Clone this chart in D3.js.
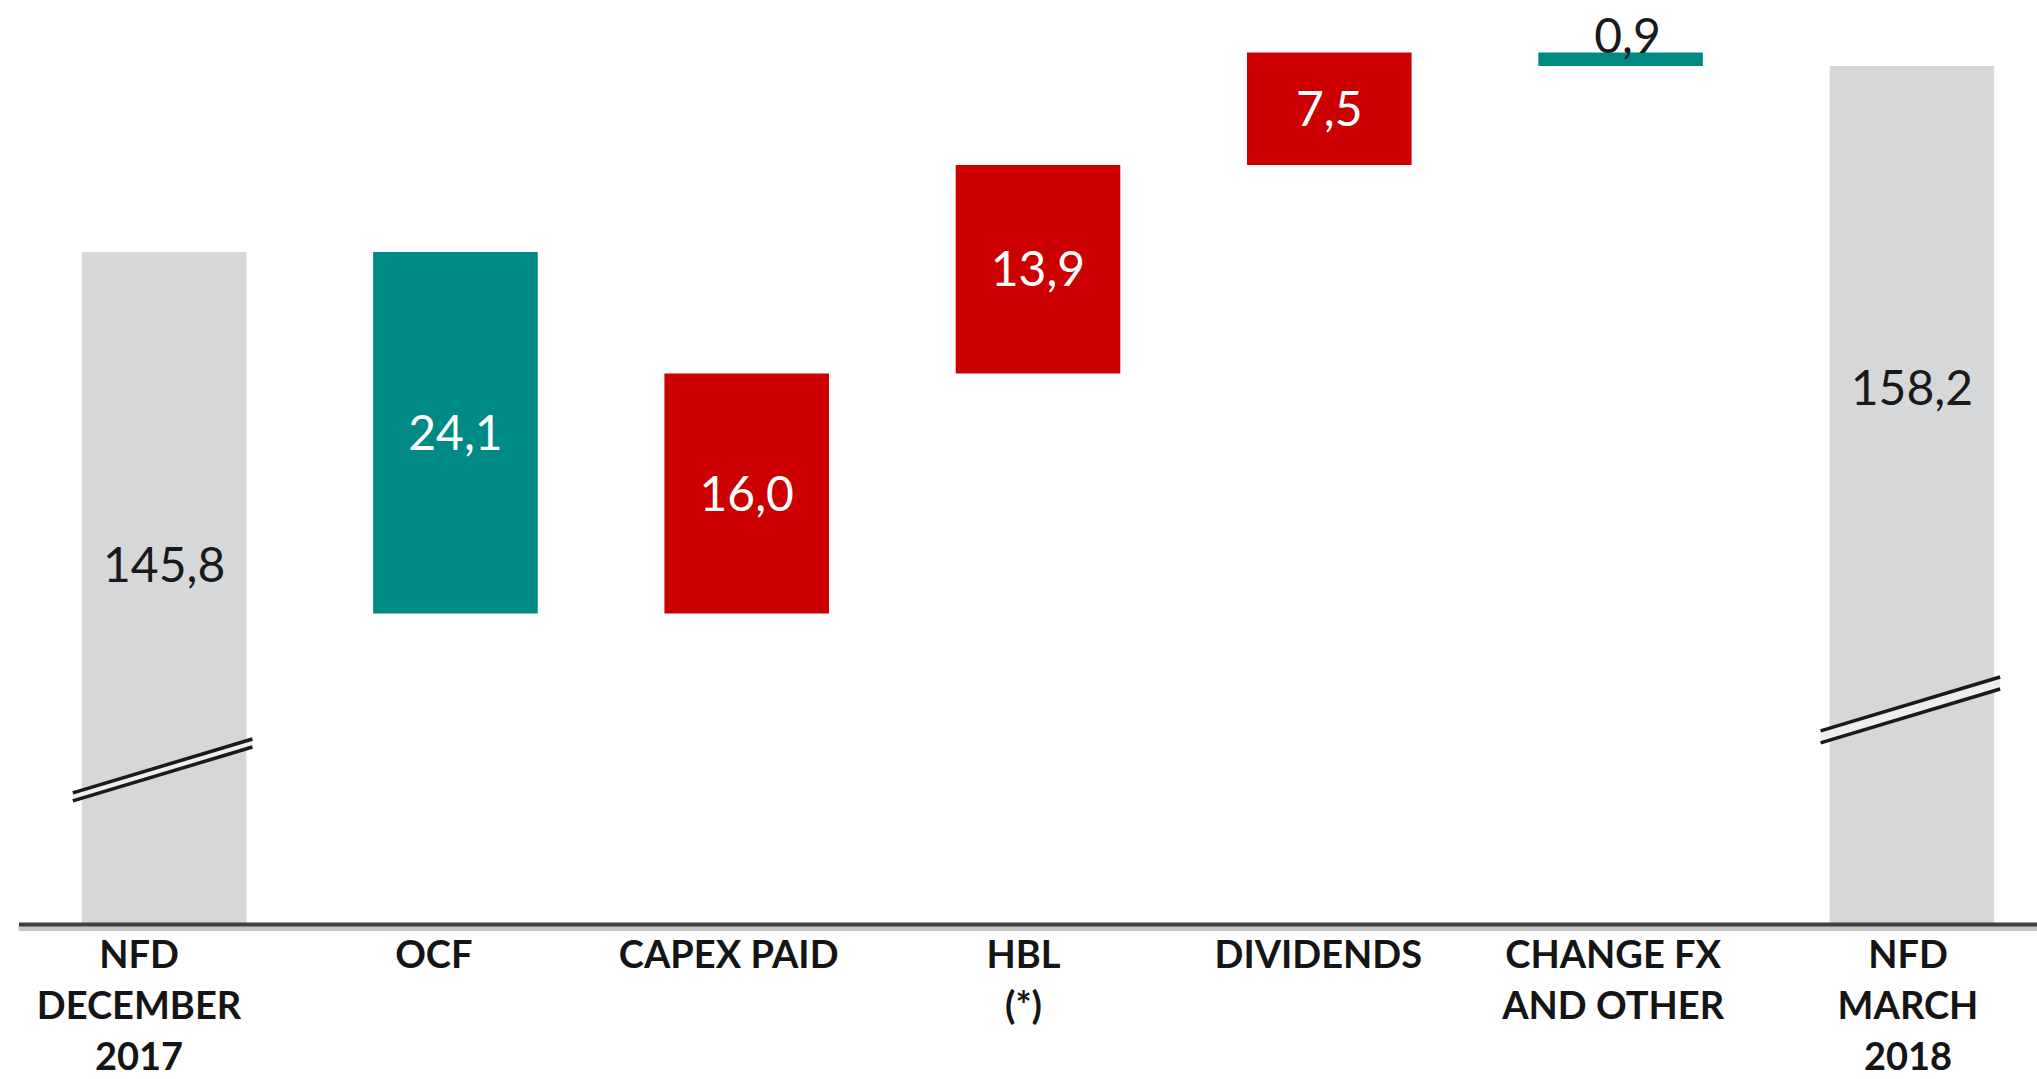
<!DOCTYPE html>
<html>
<head>
<meta charset="utf-8">
<script src="https://cdn.jsdelivr.net/npm/d3@7"></script>
<style>
  html, body { margin: 0; padding: 0; background: #fff; }
  svg { display: block; }
  text { font-family: Lato, "Open Sans", sans-serif; }
</style>
</head>
<body>
<svg id="chart" width="2037" height="1079"></svg>
<script>
// Net financial debt bridge, December 2017 -> March 2018 (EUR m)
const categories = ["NFD DECEMBER 2017", "OCF", "CAPEX PAID", "HBL (*)", "DIVIDENDS", "CHANGE FX AND OTHER", "NFD MARCH 2018"];
const labelLines = [["NFD", "DECEMBER", "2017"], ["OCF"], ["CAPEX PAID"], ["HBL", "(*)"], ["DIVIDENDS"], ["CHANGE FX", "AND OTHER"], ["NFD", "MARCH", "2018"]];
const values = [145.8, -24.1, 16.0, 13.9, 7.5, -0.9, 158.2];
const kinds = ["total", "step", "step", "step", "step", "step", "total"];

// truncated value axis (the total bars carry break marks)
const axisFloor = 101;
const axisCeil = 162.6;

const W = 2037, H = 1079;
const svg = d3.select("#chart");

const x = d3.scaleBand()
  .domain(categories)
  .range([18.5, 2057.5])
  .paddingInner(0.435)
  .paddingOuter(0.2175);

// category captions sit on their own evenly spaced grid
const xLabel = d3.scalePoint()
  .domain(categories)
  .range([139, 1908]);

const y = d3.scaleLinear()
  .domain([axisFloor, axisCeil])
  .range([924, 0]);

const fmt = d3.formatLocale({ decimal: ",", thousands: ".", grouping: [3], currency: ["", "\u20ac"] }).format(".1f");

const colors = { total: "#d6d7d9", up: "#cc0000", down: "#008a86" };

// running totals -> floating bars
let running = 0;
const bars = categories.map((cat, i) => {
  const v = values[i];
  let lo, hi, type;
  if (kinds[i] === "total") {
    lo = axisFloor; hi = v; running = v; type = "total";
  } else {
    const start = running;
    running = start + v;
    lo = Math.min(start, running);
    hi = Math.max(start, running);
    type = v < 0 ? "down" : "up";
  }
  return { cat, i, v, lo, hi, type };
});

// baseline: soft shadow line under a dark rule
svg.append("line")
  .attr("x1", x.range()[0]).attr("x2", x.range()[1])
  .attr("y1", 928.5).attr("y2", 928.5)
  .attr("stroke", "#c4c4c4").attr("stroke-width", 5);

// bars
svg.append("g").selectAll("rect")
  .data(bars)
  .join("rect")
  .attr("x", d => x(d.cat))
  .attr("width", x.bandwidth())
  .attr("y", d => y(d.hi))
  .attr("height", d => y(d.lo) - y(d.hi))
  .attr("fill", d => colors[d.type]);

// axis rule
const axis = svg.append("g")
  .attr("transform", `translate(0,${y(axisFloor)})`)
  .call(d3.axisBottom(x).tickSize(0).tickFormat(""));
axis.select(".domain").attr("stroke", "#3f3f3f").attr("stroke-width", 4);

// break marks on the truncated total bars
const breakMarks = [
  { cat: categories[0], at: 111.3, gap: 8 },
  { cat: categories[6], at: 115.3, gap: 12 }
];
const slope = -0.30;
const bm = svg.append("g");
breakMarks.forEach(b => {
  const x0 = x(b.cat) - 9, x1 = x(b.cat) + x.bandwidth() + 6;
  const cx = x(b.cat) + x.bandwidth() / 2;
  const cy = y(b.at);
  const yy = xx => cy + slope * (xx - cx);
  const h = b.gap / 2;
  bm.append("path")
    .attr("d", `M${x0},${yy(x0) - h}L${x1},${yy(x1) - h}L${x1},${yy(x1) + h}L${x0},${yy(x0) + h}Z`)
    .attr("fill", "#eeeeee");
  [-h, h].forEach(o => {
    bm.append("line")
      .attr("x1", x0).attr("y1", yy(x0) + o)
      .attr("x2", x1).attr("y2", yy(x1) + o)
      .attr("stroke", "#1a1a1a").attr("stroke-width", 3.5);
  });
});

// value labels
const fs = 48;
const capHalf = fs * 0.7165 / 2;
svg.append("g").selectAll("text")
  .data(bars)
  .join("text")
  .attr("text-anchor", "middle")
  .attr("font-size", fs)
  .attr("x", d => x(d.cat) + x.bandwidth() / 2 + (y(d.lo) - y(d.hi) < 40 ? 7 : 0))
  .attr("y", d => {
    const top = y(d.hi), bottom = y(d.lo);
    if (d.type === "total") {
      if (d.i === 0) return top + 0.465 * (bottom - top) + capHalf;
      const br = breakMarks.find(b => b.cat === d.cat);
      return (top + y(br.at)) / 2 + capHalf;
    }
    if (bottom - top < 40) return top;
    return (top + bottom) / 2 + capHalf;
  })
  .attr("fill", d => d.type === "total" || (y(d.lo) - y(d.hi) < 40) ? "#1a1a1a" : "#ffffff")
  .text(d => fmt(Math.abs(d.v)));

// category captions
const cap = svg.append("g").selectAll("text")
  .data(categories)
  .join("text")
  .attr("text-anchor", "middle")
  .attr("font-size", 38)
  .attr("font-weight", 700)
  .attr("fill", "#151515");
cap.each(function (c, i) {
  d3.select(this).selectAll("tspan")
    .data(labelLines[i])
    .join("tspan")
    .attr("x", xLabel(c))
    .attr("y", (t, k) => 968 + k * 51)
    .text(t => t);
});
</script>
</body>
</html>
